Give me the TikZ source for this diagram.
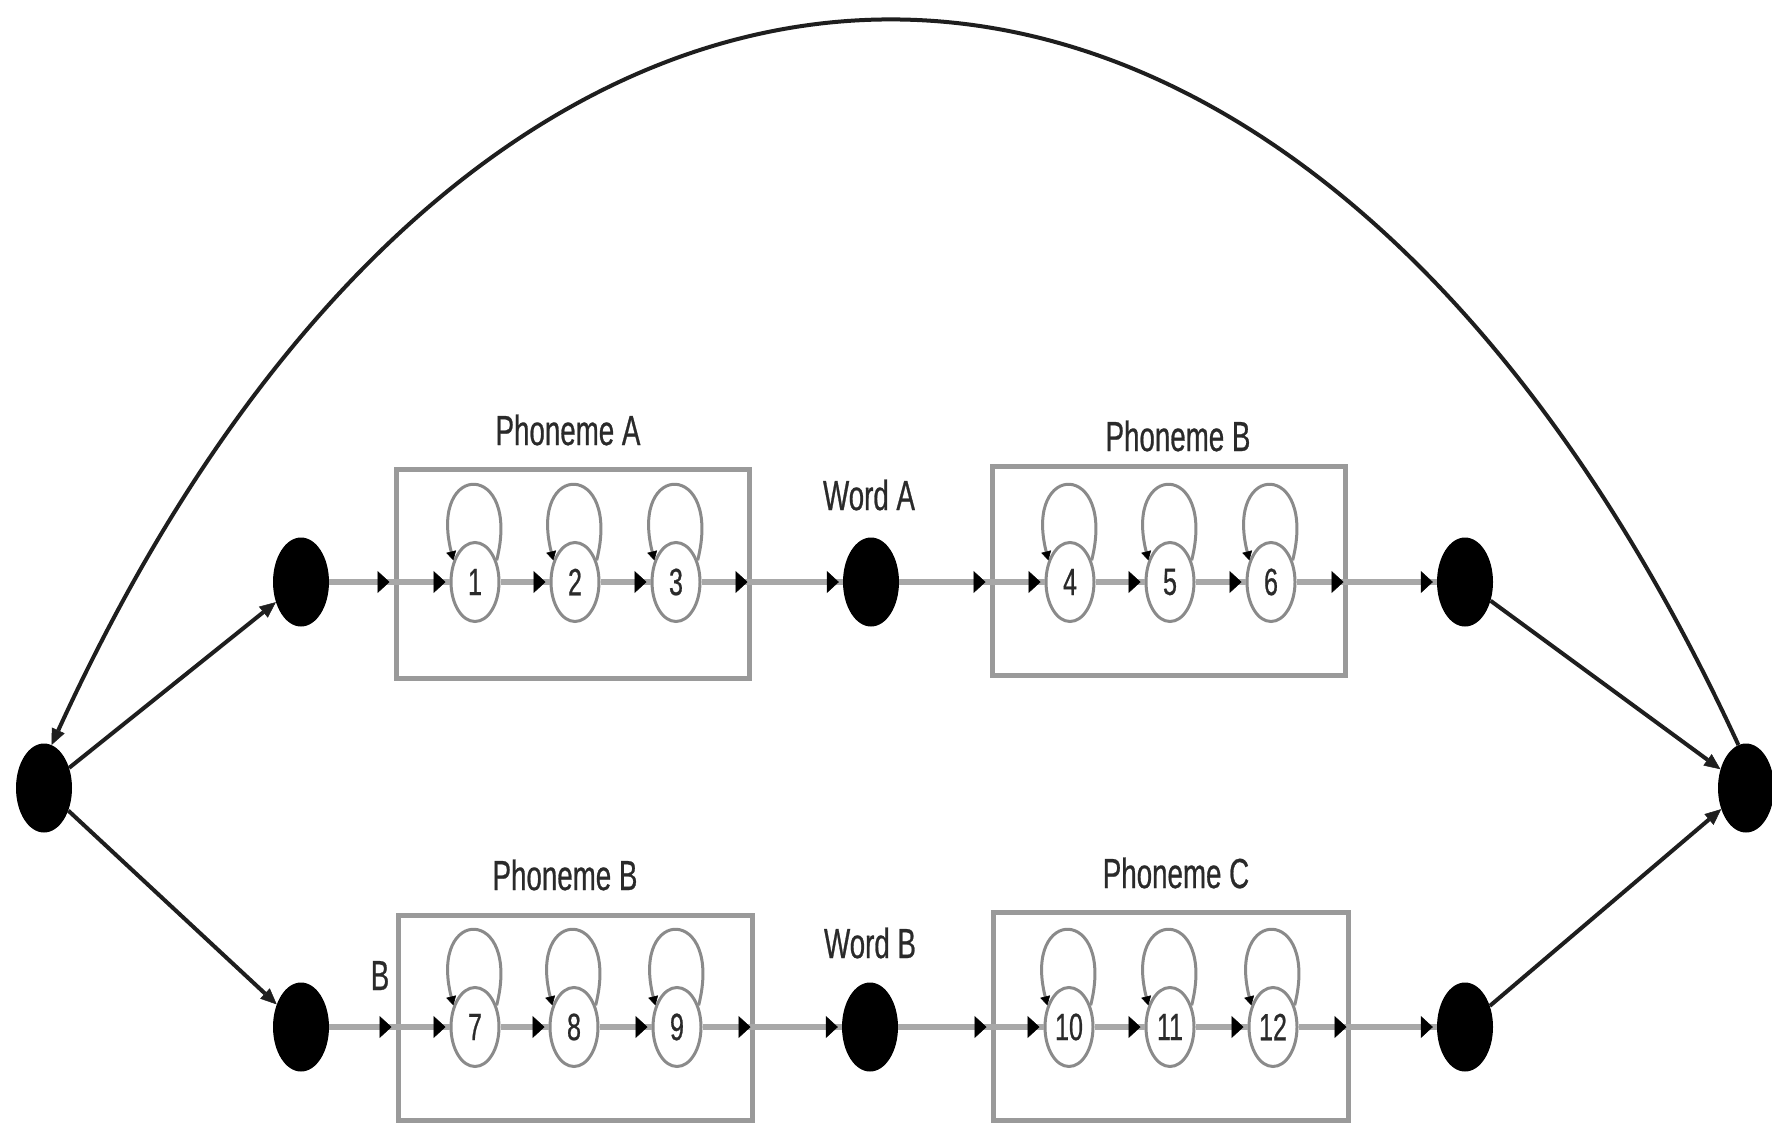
\documentclass[tikz,border=0pt]{standalone}
\usepackage{fontspec}
\setmainfont{Liberation Sans}[FakeStretch=0.66,FakeBold=0.6]
\usetikzlibrary{arrows.meta,shapes.geometric,decorations.markings}
\definecolor{lineg}{HTML}{A8A8A8}
\definecolor{boxg}{HTML}{9A9A9A}
\definecolor{stateg}{HTML}{8A8A8A}
\definecolor{txt}{HTML}{2A2A2A}
\definecolor{dark}{HTML}{1E1E1E}
\begin{document}
\begin{tikzpicture}[x=1pt,y=1pt,
  bnode/.style={ellipse, fill=black, minimum width=56pt, minimum height=89pt, inner sep=0pt},
  state/.style={ellipse, draw=stateg, line width=3pt, fill=white, minimum width=48pt, minimum height=79pt, inner sep=0pt, font=\fontsize{38}{40}\selectfont, text=txt},
  pbox/.style={draw=boxg, line width=5pt, rectangle, inner sep=0pt},
  lbl/.style={font=\fontsize{42}{44}\selectfont, text=txt, anchor=base, inner sep=0pt},
  seg/.style={draw=lineg, line width=6pt, postaction={decorate}, decoration={markings, mark=at position -4pt with {\arrow{Triangle[length=12pt,width=22pt,line width=0.5pt,color=black]}}}},
  conn/.style={draw=dark, line width=4pt, -{Triangle[length=16pt,width=14pt,line width=0.5pt]}},
  selfloop/.style={draw=stateg, line width=3pt, -{Triangle[length=9pt,width=10pt,line width=0.5pt,color=black]}}
]
\useasboundingbox (0,0) rectangle (1772,-1122);
\fill[white] (0,0) rectangle (1772,-1122);

% phoneme boxes
\node[pbox, minimum width=353pt, minimum height=209pt] (Abox) at (572.5,-573.5) {};
\node[pbox, minimum width=353pt, minimum height=209pt] (Bbox) at (1168.5,-570.5) {};
\node[pbox, minimum width=354pt, minimum height=205pt] (B2box) at (575,-1017.5) {};
\node[pbox, minimum width=355pt, minimum height=208pt] (Cbox) at (1170.5,-1016) {};

% labels
\node[lbl] (lPA) at (568,-445) {Phoneme A};
\node[lbl] (lPB) at (1178,-451) {Phoneme B};
\node[lbl] (lWA) at (869,-510) {Word A};
\node[lbl] (lPB2) at (565,-890) {Phoneme B};
\node[lbl] (lPC) at (1176,-888) {Phoneme C};
\node[lbl] (lWB) at (870,-958) {Word B};
\node[lbl] (lB) at (380,-990) {B};

% black nodes
\node[bnode] (L) at (44,-788) {};
\node[bnode] (TL) at (301,-582) {};
\node[bnode] (WA) at (871,-582) {};
\node[bnode] (TR) at (1465,-582) {};
\node[bnode] (R) at (1746,-788) {};
\node[bnode] (BL) at (301,-1027) {};
\node[bnode] (WB) at (870,-1027) {};
\node[bnode] (BR) at (1465,-1027) {};

% states
\node[state] (s1) at (475,-582) {1};
\node[state] (s2) at (575,-582) {2};
\node[state] (s3) at (676,-582) {3};
\node[state] (s4) at (1070,-582) {4};
\node[state] (s5) at (1170,-582) {5};
\node[state] (s6) at (1271,-582) {6};
\node[state] (s7) at (475,-1027) {7};
\node[state] (s8) at (574,-1027) {8};
\node[state] (s9) at (677,-1027) {9};
\node[state] (s10) at (1069,-1027) {10};
\node[state] (s11) at (1170,-1027) {11};
\node[state] (s12) at (1273,-1027) {12};

% box edge coordinates on the rows
\coordinate (Aw) at (Abox.west |- s1);
\coordinate (Ae) at (Abox.east |- s1);
\coordinate (Bw) at (Bbox.west |- s4);
\coordinate (Be) at (Bbox.east |- s4);
\coordinate (B2w) at (B2box.west |- s7);
\coordinate (B2e) at (B2box.east |- s7);
\coordinate (Cw) at (Cbox.west |- s10);
\coordinate (Ce) at (Cbox.east |- s10);

% top row
\draw[seg] (TL) -- (Aw);
\draw[seg] (Aw) -- (s1);
\draw[seg] (s1) -- (s2);
\draw[seg] (s2) -- (s3);
\draw[seg] (s3) -- (Ae);
\draw[seg] (Ae) -- (WA);
\draw[seg] (WA) -- (Bw);
\draw[seg] (Bw) -- (s4);
\draw[seg] (s4) -- (s5);
\draw[seg] (s5) -- (s6);
\draw[seg] (s6) -- (Be);
\draw[seg] (Be) -- (TR);

% bottom row
\draw[seg] (BL) -- (B2w);
\draw[seg] (B2w) -- (s7);
\draw[seg] (s7) -- (s8);
\draw[seg] (s8) -- (s9);
\draw[seg] (s9) -- (B2e);
\draw[seg] (B2e) -- (WB);
\draw[seg] (WB) -- (Cw);
\draw[seg] (Cw) -- (s10);
\draw[seg] (s10) -- (s11);
\draw[seg] (s11) -- (s12);
\draw[seg] (s12) -- (Ce);
\draw[seg] (Ce) -- (BR);

% self loops
\foreach \s in {s1,s2,s3,s4,s5,s6,s7,s8,s9,s10,s11,s12}{
  \draw[selfloop] (\s.45) .. controls +(25,100) and +(-25,100) .. (\s.135);
}

% black connectors
\draw[conn] (L) -- (TL);
\draw[conn] (L) -- (BL);
\draw[conn] (TR) -- (R);
\draw[conn] (BR) -- (R);
\draw[conn] (R.100) .. controls (1293,220) and (493,220) .. (L.80);
\end{tikzpicture}
\end{document}
